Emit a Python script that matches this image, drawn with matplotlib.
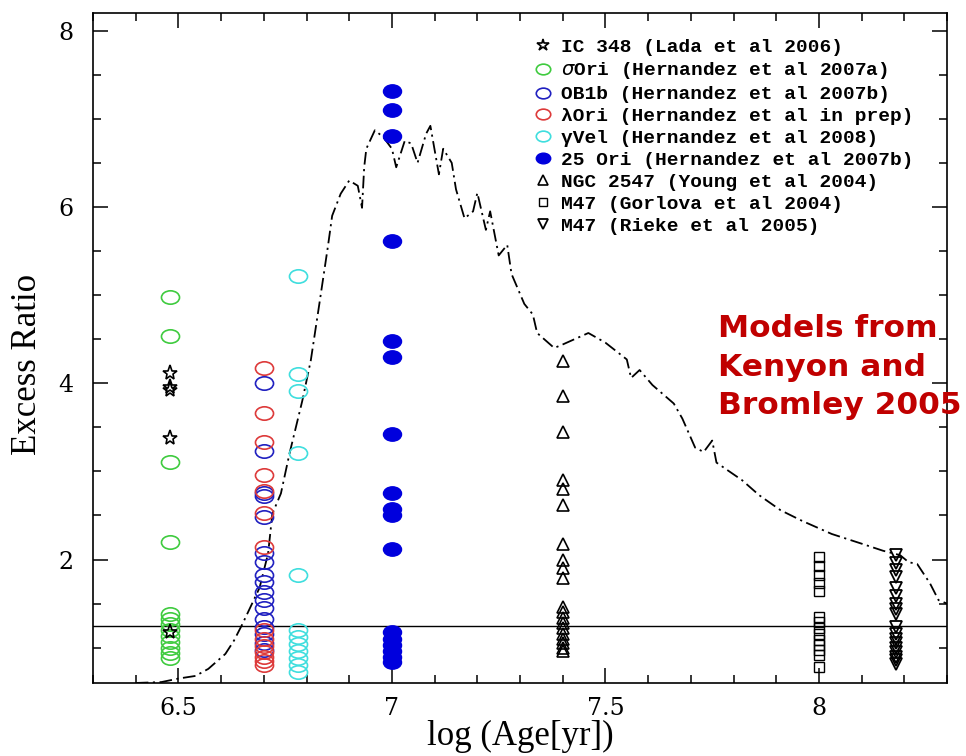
import matplotlib
matplotlib.use('Agg')
import matplotlib.pyplot as plt
from matplotlib.path import Path
from matplotlib.transforms import Affine2D
from matplotlib.ticker import MultipleLocator

# Cluster ages (log yr) and excess ratios
ic348_age = 6.48
ic348_ratio = [4.12, 3.96, 3.92, 3.38, 1.18]

sori_age = 6.48
sori_ratio = [4.98, 4.54, 3.11, 2.20, 1.38, 1.33, 1.27, 1.20, 1.13, 1.06,
              1.00, 0.94, 0.88]

ob1b_age = 6.70
ob1b_ratio = [4.00, 3.23, 2.76, 2.72, 2.48, 2.08, 1.97, 1.82, 1.74, 1.63,
              1.54, 1.45, 1.33, 1.23, 1.15, 1.05, 0.97]

lori_age = 6.70
lori_ratio = [4.17, 3.66, 3.33, 2.96, 2.78, 2.53, 2.14, 1.20, 1.10, 1.02,
              0.95, 0.90, 0.85, 0.80]

gvel_age = 6.78
gvel_ratio = [5.22, 4.10, 3.91, 3.21, 1.82, 1.20, 1.12, 1.04, 0.96, 0.88,
              0.80, 0.72]

ori25_age = 7.00
ori25_ratio = [7.31, 7.10, 6.80, 5.61, 4.48, 4.30, 3.42, 2.76, 2.57, 2.50,
               2.12, 1.18, 1.10, 1.03, 0.96, 0.90, 0.84]

ngc2547_age = 7.40
ngc2547_ratio = [4.25, 3.85, 3.45, 2.90, 2.80, 2.62, 2.18, 2.00, 1.90, 1.79,
                 1.46, 1.40, 1.34, 1.28, 1.22, 1.16, 1.10, 1.05, 1.00, 0.96]

m47g_age = 8.00
m47g_ratio = [2.03, 1.93, 1.83, 1.73, 1.64, 1.35, 1.29, 1.22, 1.15, 1.09,
              1.03, 0.97, 0.92, 0.78]

m47r_age = 8.18
m47r_ratio = [2.05, 1.96, 1.88, 1.80, 1.68, 1.59, 1.50, 1.44, 1.38, 1.23,
              1.16, 1.10, 1.05, 1.00, 0.95, 0.90, 0.86, 0.82]

# Kenyon & Bromley (2005) model curve
model_age = [6.40, 6.46, 6.50, 6.54, 6.57, 6.61, 6.63, 6.65, 6.69, 6.71,
             6.72, 6.74, 6.76, 6.79, 6.81, 6.83, 6.85, 6.86, 6.88, 6.90,
             6.92, 6.93, 6.935, 6.94, 6.96, 6.98, 7.00, 7.01, 7.03, 7.045,
             7.06, 7.08, 7.09, 7.11, 7.12, 7.14, 7.15, 7.17, 7.19, 7.20,
             7.22, 7.23, 7.25, 7.27, 7.28, 7.31, 7.33, 7.34, 7.38, 7.40,
             7.46, 7.50, 7.55, 7.56, 7.58, 7.61, 7.66, 7.68, 7.71, 7.73,
             7.75, 7.76, 7.82, 7.86, 7.91, 7.96, 8.03, 8.10, 8.15, 8.19,
             8.21, 8.23, 8.26, 8.28, 8.30]
model_ratio = [0.60, 0.61, 0.65, 0.68, 0.76, 0.93, 1.08, 1.27, 1.68, 2.07,
               2.52, 2.75, 3.20, 3.80, 4.26, 4.90, 5.55, 5.90, 6.15, 6.30,
               6.24, 5.99, 6.45, 6.66, 6.87, 6.79, 6.66, 6.45, 6.75, 6.72,
               6.50, 6.83, 6.92, 6.37, 6.66, 6.50, 6.20, 5.87, 5.95, 6.16,
               5.74, 5.95, 5.45, 5.57, 5.24, 4.90, 4.78, 4.57, 4.40, 4.44,
               4.57, 4.46, 4.27, 4.06, 4.15, 3.98, 3.77, 3.60, 3.27, 3.22,
               3.35, 3.10, 2.90, 2.73, 2.56, 2.44, 2.29, 2.18, 2.10, 2.05,
               1.97, 1.95, 1.73, 1.54, 1.50]

threshold = 1.25

# slightly squashed circle, like the original plot
ellipse = Path.unit_circle().transformed(Affine2D().scale(1.35, 1.0))

fig = plt.figure(figsize=(9.66, 7.56), dpi=100)
ax = fig.add_axes([0.0963, 0.0966, 0.8841, 0.8862])

ax.axhline(threshold, color='black', lw=1.0)
ax.plot(model_age, model_ratio, color='black', lw=1.3,
        linestyle=(0, (7, 2.5, 1.2, 2.5)))

def col(x, ys):
    return [x] * len(ys)

ax.plot(col(ic348_age, ic348_ratio), ic348_ratio, ls='none', marker='*',
        ms=11, mfc='none', mec='black', mew=1.2,
        label='IC 348 (Lada et al 2006)', zorder=4)
ax.plot(col(sori_age, sori_ratio), sori_ratio, ls='none', marker=ellipse,
        ms=13, mfc='none', mec='#3fcb3f', mew=1.2,
        label='$\\sigma$Ori (Hernandez et al 2007a)')
ax.plot(col(ob1b_age, ob1b_ratio), ob1b_ratio, ls='none', marker=ellipse,
        ms=13, mfc='none', mec='#2020c0', mew=1.2,
        label='OB1b (Hernandez et al 2007b)')
ax.plot(col(lori_age, lori_ratio), lori_ratio, ls='none', marker=ellipse,
        ms=13, mfc='none', mec='#dd3a3a', mew=1.2,
        label='\u03bbOri (Hernandez et al in prep)')
ax.plot(col(gvel_age, gvel_ratio), gvel_ratio, ls='none', marker=ellipse,
        ms=13, mfc='none', mec='#3fdede', mew=1.2,
        label='\u03b3Vel (Hernandez et al 2008)')
ax.plot(col(ori25_age, ori25_ratio), ori25_ratio, ls='none', marker=ellipse,
        ms=13, mfc='#0000dd', mec='#0000dd', mew=1.0,
        label='25 Ori (Hernandez et al 2007b)')
ax.plot(col(ngc2547_age, ngc2547_ratio), ngc2547_ratio, ls='none',
        marker='^', ms=8.5, mfc='none', mec='black', mew=1.2,
        label='NGC 2547 (Young et al 2004)')
ax.plot(col(m47g_age, m47g_ratio), m47g_ratio, ls='none', marker='s',
        ms=7, mfc='none', mec='black', mew=1.0,
        label='M47 (Gorlova et al 2004)')
ax.plot(col(m47r_age, m47r_ratio), m47r_ratio, ls='none', marker='v',
        ms=9, mfc='none', mec='black', mew=1.3,
        label='M47 (Rieke et al 2005)')

ax.set_xlim(6.3, 8.3)
ax.set_ylim(0.6, 8.2)
ax.set_xticks([6.5, 7, 7.5, 8])
ax.set_xticklabels(['6.5', '7', '7.5', '8'])
ax.set_yticks([2, 4, 6, 8])
ax.xaxis.set_minor_locator(MultipleLocator(0.1))
ax.yaxis.set_minor_locator(MultipleLocator(0.5))
ax.tick_params(which='both', direction='in', top=True, right=True,
               width=1.1, labelsize=17)
ax.tick_params(which='major', length=11)
ax.tick_params(which='minor', length=5.5)
ax.tick_params(axis='x', pad=10)
ax.tick_params(axis='y', pad=14)
for lab in ax.get_xticklabels() + ax.get_yticklabels():
    lab.set_family('DejaVu Serif')
for sp in ax.spines.values():
    sp.set_linewidth(1.2)

ax.set_xlabel('log (Age[yr])', family='Liberation Serif', fontsize=25,
              labelpad=0)
ax.set_ylabel('Excess Ratio', family='Liberation Serif', fontsize=25)
ax.yaxis.set_label_coords(-0.057, 0.475)

ax.legend(loc='upper left', bbox_to_anchor=(0.497, 0.985), frameon=False,
          prop={'family': ['Liberation Mono', 'DejaVu Sans Mono'],
                'weight': 'bold', 'size': 14},
          handlelength=1.0, handletextpad=0.45, labelspacing=0.22,
          borderpad=0.3, markerscale=0.8)

fig.text(0.743, 0.584, 'Models from\nKenyon and\nBromley 2005',
         color='#c00000', fontsize=22.5, fontweight='bold', va='top',
         ha='left', linespacing=1.4, family='DejaVu Sans')

fig.savefig('out.png', dpi=100)
